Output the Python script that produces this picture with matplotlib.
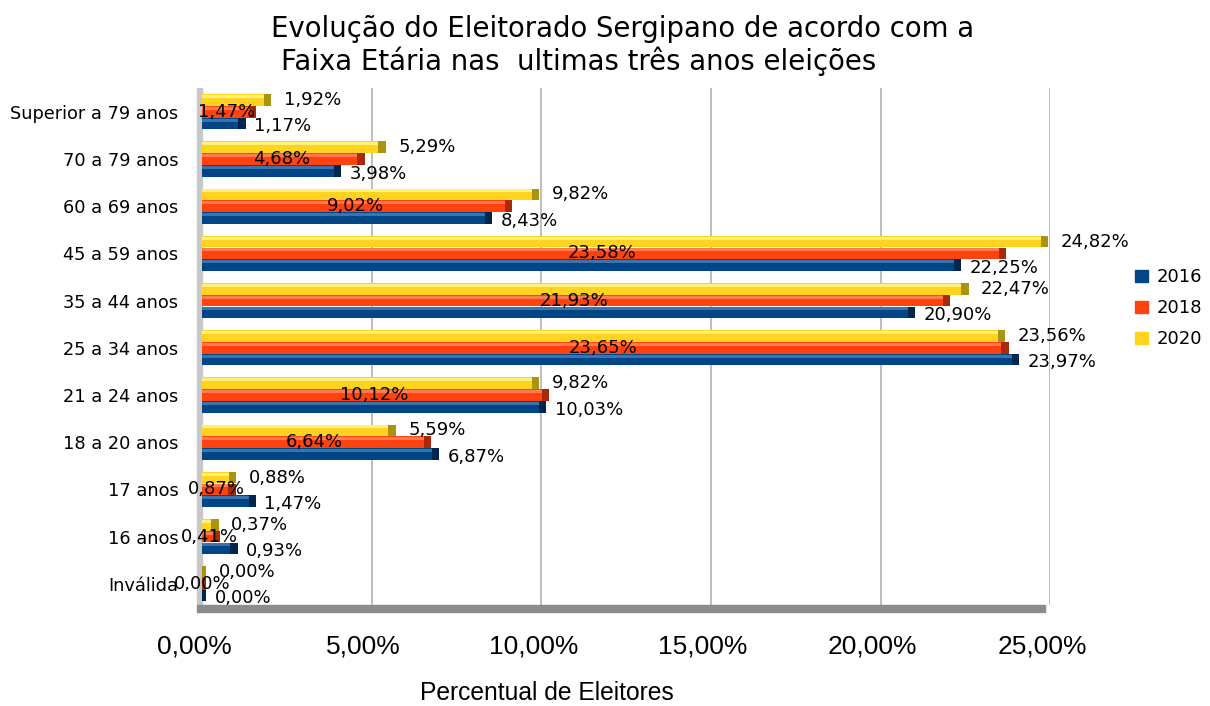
import numpy as np
import matplotlib.pyplot as plt
import matplotlib.transforms as mtransforms
from matplotlib.patches import Rectangle, Patch

categorias = ['Superior a 79 anos', '70 a 79 anos', '60 a 69 anos', '45 a 59 anos',
              '35 a 44 anos', '25 a 34 anos', '21 a 24 anos', '18 a 20 anos',
              '17 anos', '16 anos', 'Inválida']
v2016 = [1.17, 3.98, 8.43, 22.25, 20.90, 23.97, 10.03, 6.87, 1.47, 0.93, 0.00]
v2018 = [1.47, 4.68, 9.02, 23.58, 21.93, 23.65, 10.12, 6.64, 0.87, 0.41, 0.00]
v2020 = [1.92, 5.29, 9.82, 24.82, 22.47, 23.56, 9.82, 5.59, 0.88, 0.37, 0.00]
anos = ['2016', '2018', '2020']
ticks = [0, 5, 10, 15, 20, 25]

cores = {'2016': '#004586', '2018': '#ff420e', '2020': '#ffd320'}
escuras = {'2016': '#00264d', '2018': '#a82a08', '2020': '#a89410'}
claras = {'2016': '#3a73ad', '2018': '#ff7a52', '2020': '#fff07a'}

def fmt(v):
    return ('%.2f%%' % v).replace('.', ',')

fig = plt.figure(figsize=(12.1, 7.06), dpi=100)
ax = fig.add_axes([0.167, 0.143, 0.701, 0.732])

y = np.arange(len(categorias))
h = 0.25
series = [('2020', v2020, -h), ('2018', v2018, 0.0), ('2016', v2016, h)]

for ano, vals, off in series:
    yy = y + off
    vals = np.array(vals)
    # end cap / shadow
    ax.barh(yy, vals + 0.22, height=h * 0.98, left=-0.1, color=escuras[ano], zorder=3)
    ax.barh(yy, vals, height=h * 0.98, left=-0.1, color=cores[ano], zorder=4)
    ax.barh(yy - h * 0.3, vals, height=h * 0.25, left=-0.1, color=claras[ano], zorder=5)
    for yi, v in zip(yy, vals):
        if ano == '2018':
            ax.text(v / 2, yi, fmt(v), ha='center', va='center', fontsize=13, zorder=6)
        elif ano == '2020':
            ax.annotate(fmt(v), (v, yi), xytext=(12, 0), textcoords='offset points',
                        ha='left', va='center', fontsize=13, zorder=6)
        else:
            ax.annotate(fmt(v), (v, yi), xytext=(9, -2), textcoords='offset points',
                        ha='left', va='center', fontsize=13, zorder=6)

ax.set_xlim(0, 25)
ax.set_ylim(10.45, -0.5)
ax.set_yticks(y)
ax.set_yticklabels(categorias, fontsize=12.8)
ax.set_xticks(ticks)
ax.set_xticklabels([fmt(t) for t in ticks], fontsize=19, fontfamily='Liberation Sans')
ax.tick_params(axis='x', length=0, pad=21)
ax.tick_params(axis='y', length=0, pad=17)
shift = mtransforms.ScaledTranslation(-8 / 100, 0, fig.dpi_scale_trans)
for lab in ax.get_xticklabels():
    lab.set_transform(lab.get_transform() + shift)
for s in ax.spines.values():
    s.set_visible(False)
ax.grid(axis='x', color='#b3b3b3', lw=1.2, zorder=0)
ax.set_axisbelow(True)

# floor and wall
ax.add_patch(Rectangle((-0.15, 1.0), 0.15, -1.0, transform=ax.get_xaxis_transform(),
                       color='#c8c8c8', clip_on=False, zorder=1))
ax.add_patch(Rectangle((-0.15, -0.014), 25.0, 0.014, transform=ax.get_xaxis_transform(),
                       color='#8c8c8c', clip_on=False, zorder=1))

handles = [Patch(color=cores[a]) for a in anos]
ax.legend(handles, anos, loc='center left', bbox_to_anchor=(1.1, 0.574), frameon=False,
          fontsize=13, handlelength=0.7, handleheight=0.7, handletextpad=0.5,
          labelspacing=0.72, borderaxespad=0, borderpad=0)

fig.text(0.224, 0.959, 'Evolução do Eleitorado Sergipano de acordo com a',
         fontsize=19.8, va='center', ha='left')
fig.text(0.232, 0.913, 'Faixa Etária nas  ultimas três anos eleições',
         fontsize=19.8, va='center', ha='left')
fig.text(0.452, 0.002, 'Percentual de Eleitores', fontsize=17.7,
         fontfamily='Liberation Sans', ha='center', va='bottom')

fig.savefig('out.png', dpi=100)
